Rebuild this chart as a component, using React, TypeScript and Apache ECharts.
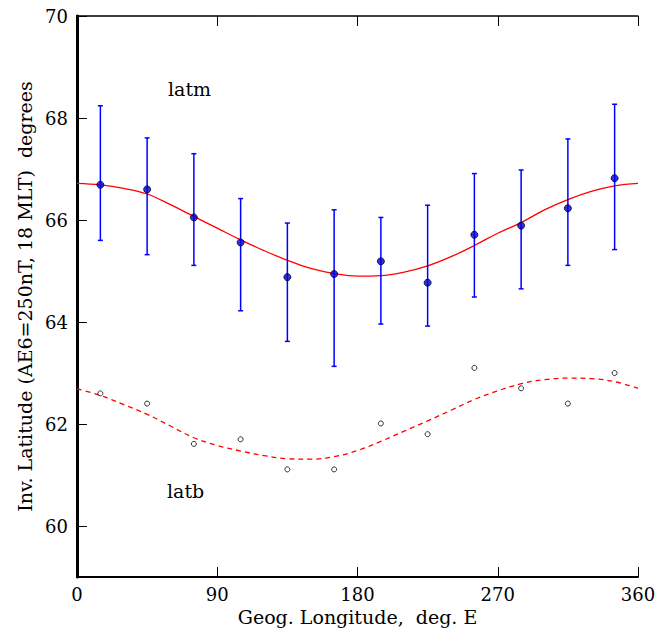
import React, { useEffect, useRef } from "react";
import * as echarts from "echarts";

// Longitudes of the binned measurements (deg E)
const lonPoints = [15, 45, 75, 105, 135, 165, 195, 225, 255, 285, 315, 345];
// latm: mean latitude and error bar limits
const latmValues = [66.69, 66.6, 66.05, 65.56, 64.88, 64.94, 65.19, 64.77, 65.71, 65.89, 66.23, 66.82];
const latmLow = [65.6, 65.32, 65.11, 64.22, 63.62, 63.13, 63.96, 63.92, 64.49, 64.65, 65.11, 65.42];
const latmHigh = [68.24, 67.61, 67.3, 66.42, 65.94, 66.2, 66.05, 66.29, 66.91, 66.98, 67.59, 68.27];
// latb: boundary latitude (open circles)
const latbValues = [62.6, 62.4, 61.61, 61.7, 61.11, 61.11, 62.01, 61.8, 63.1, 62.7, 62.4, 63.0];
// fitted curves, every 15 degrees
const curveLon = [0, 15, 30, 45, 60, 75, 90, 105, 120, 135, 150, 165, 180, 195, 210, 225, 240, 255, 270, 285, 300, 315, 330, 345, 360];
const latmFit = [66.72, 66.69, 66.62, 66.51, 66.3, 66.07, 65.84, 65.61, 65.4, 65.21, 65.05, 64.95, 64.9, 64.91, 64.98, 65.1, 65.28, 65.5, 65.74, 65.95, 66.2, 66.4, 66.56, 66.67, 66.72];
const latbFit = [62.69, 62.56, 62.38, 62.19, 61.96, 61.73, 61.58, 61.47, 61.38, 61.32, 61.31, 61.36, 61.48, 61.66, 61.86, 62.06, 62.27, 62.48, 62.65, 62.79, 62.87, 62.9, 62.89, 62.83, 62.7];
const xTicks = [0, 90, 180, 270, 360];
const yTicks = [60, 62, 64, 66, 68, 70];

const FONT = "DejaVu Serif";
const FS_TICK = 18;
const FS_NAME = 19;

export default function App() {
  const ref = useRef<HTMLDivElement>(null);
  useEffect(() => {
    if (!ref.current) return;
    const chart = echarts.init(ref.current, null, { renderer: "svg" });
    const errData = lonPoints.map((x, i) => [x, latmLow[i], latmHigh[i]]);
    chart.setOption({
      animation: false,
      backgroundColor: "#ffffff",
      grid: { left: 77, right: 32, top: 16, bottom: 57 },
      xAxis: [
        {
          type: "value",
          position: "bottom",
          min: 0,
          max: 360,
          interval: 90,
          name: "Geog. Longitude,  deg. E",
          nameLocation: "middle",
          nameGap: 28,
          nameTextStyle: { fontFamily: FONT, fontSize: FS_NAME, color: "#000" },
          axisLine: { show: true, lineStyle: { color: "#000", width: 2 } },
          axisTick: { show: true, inside: true, length: 10, lineStyle: { color: "#000", width: 1 }, customValues: xTicks },
          axisLabel: { fontFamily: FONT, fontSize: FS_TICK, color: "#000", margin: 8, customValues: xTicks },
          splitLine: { show: false },
        },
        {
          type: "value",
          position: "top",
          min: 0,
          max: 360,
          interval: 90,
          axisLine: { show: true, lineStyle: { color: "#000", width: 1.5 } },
          axisTick: { show: true, inside: true, length: 10, lineStyle: { color: "#000", width: 1 } },
          axisLabel: { show: false },
          splitLine: { show: false },
        },
      ],
      yAxis: [
        {
          type: "value",
          position: "left",
          min: 59,
          max: 70,
          name: "Inv. Latitude (AE6=250nT, 18 MLT)  degrees",
          nameLocation: "middle",
          nameGap: 43,
          nameTextStyle: { fontFamily: FONT, fontSize: FS_NAME, color: "#000" },
          axisLine: { show: true, lineStyle: { color: "#000", width: 2 } },
          axisTick: { show: true, inside: true, length: 10, lineStyle: { color: "#000", width: 1 }, customValues: yTicks },
          axisLabel: { fontFamily: FONT, fontSize: FS_TICK, color: "#000", margin: 9, customValues: yTicks },
          splitLine: { show: false },
        },
        {
          type: "value",
          position: "right",
          min: 59,
          max: 70,
          axisLine: { show: true, lineStyle: { color: "#000", width: 3 } },
          axisTick: { show: false },
          axisLabel: { show: false },
          splitLine: { show: false },
        },
      ],
      graphic: [
        { type: "text", left: 168, top: 79, style: { text: "latm", fontFamily: FONT, fontSize: FS_NAME, fill: "#000" } },
        { type: "text", left: 167, top: 481, style: { text: "latb", fontFamily: FONT, fontSize: FS_NAME, fill: "#000" } },
      ],
      series: [
        {
          name: "latm fit",
          type: "line",
          data: curveLon.map((x, i) => [x, latmFit[i]]),
          smooth: 0.4,
          symbol: "none",
          lineStyle: { color: "#ff0000", width: 1.3 },
          z: 2,
        },
        {
          name: "latb fit",
          type: "line",
          data: curveLon.map((x, i) => [x, latbFit[i]]),
          smooth: 0.4,
          symbol: "none",
          lineStyle: { color: "#ff0000", width: 1.3, type: [5, 4] },
          z: 2,
        },
        {
          name: "latm error",
          type: "custom",
          data: errData,
          z: 3,
          renderItem: (params: any, api: any) => {
            const x = api.value(0);
            const lo = api.coord([x, api.value(1)]);
            const hi = api.coord([x, api.value(2)]);
            const st = { stroke: "#0000ff", lineWidth: 1.5 };
            return {
              type: "group",
              children: [
                { type: "line", shape: { x1: lo[0], y1: lo[1], x2: hi[0], y2: hi[1] }, style: st },
                { type: "line", shape: { x1: hi[0] - 2.5, y1: hi[1], x2: hi[0] + 2.5, y2: hi[1] }, style: st },
                { type: "line", shape: { x1: lo[0] - 2.5, y1: lo[1], x2: lo[0] + 2.5, y2: lo[1] }, style: st },
              ],
            };
          },
          encode: { x: 0, y: [1, 2] },
        },
        {
          name: "latm",
          type: "scatter",
          data: lonPoints.map((x, i) => [x, latmValues[i]]),
          symbol: "circle",
          symbolSize: 7,
          itemStyle: { color: "#0000dd", borderColor: "#000022", borderWidth: 1 },
          z: 4,
        },
        {
          name: "latb",
          type: "scatter",
          data: lonPoints.map((x, i) => [x, latbValues[i]]),
          symbol: "circle",
          symbolSize: 5,
          itemStyle: { color: "#ffffff", borderColor: "#000000", borderWidth: 1 },
          z: 4,
        },
      ],
    });
    return () => chart.dispose();
  }, []);
  return (
    <div
      ref={ref}
      style={{ position: "absolute", left: 0, top: 0, width: 670, height: 634, background: "#fff" }}
    />
  );
}
